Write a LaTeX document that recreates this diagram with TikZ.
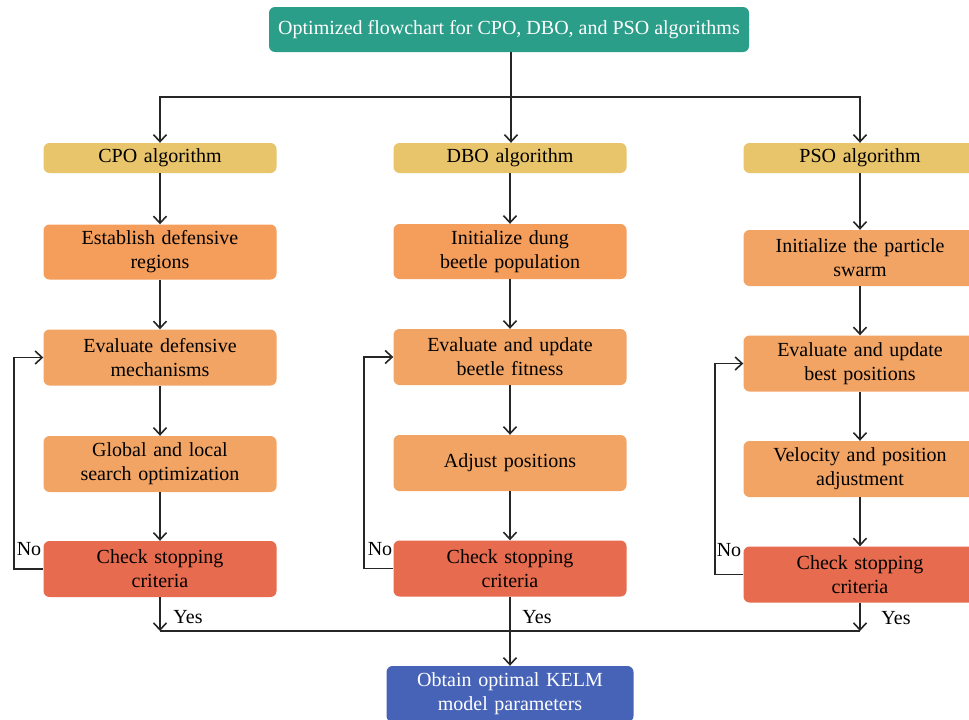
\documentclass[tikz,border=0pt]{standalone}
\usepackage{fontspec}
\setmainfont{Liberation Serif}
\usetikzlibrary{arrows.meta}
\definecolor{cTeal}{HTML}{2B9E89}
\definecolor{cYel}{HTML}{E8C46A}
\definecolor{cOrA}{HTML}{F59D5A}
\definecolor{cOrB}{HTML}{F2A464}
\definecolor{cRed}{HTML}{E76B4E}
\definecolor{cBlue}{HTML}{4763B8}
\begin{document}
\begin{tikzpicture}[x=1pt,y=-1pt,
  base/.style={rounded corners=6pt, align=center, font=\fontsize{20}{24}\selectfont, inner sep=0pt, text width=225pt},
  topbox/.style={rounded corners=6pt, align=center, font=\fontsize{20}{24}\selectfont, inner sep=0pt, fill=cTeal, text=white, minimum width=480pt, minimum height=45pt},
  algbox/.style={base, fill=cYel, minimum width=233pt, minimum height=30pt},
  stepA/.style={base, fill=cOrA, minimum width=233pt, minimum height=55pt},
  stepB/.style={base, fill=cOrB, minimum width=233pt, minimum height=56pt},
  chkbox/.style={base, fill=cRed, minimum width=233pt, minimum height=56pt},
  endbox/.style={base, fill=cBlue, text=white, minimum width=247pt, minimum height=56pt, text width=240pt},
  lbl/.style={font=\fontsize{20}{24}\selectfont, inner sep=0pt},
  arr/.style={-{Straight Barb[length=7pt,width=13pt,line width=1.6pt]}, line width=1.8pt, draw=black!85},
  ln/.style={line width=1.8pt, draw=black!85}]
\useasboundingbox (0,0) rectangle (969,720);
\fill[white] (0,0) rectangle (969,720);

\node[topbox] (top) at (509,29.5) {Optimized flowchart for CPO, DBO, and PSO algorithms};

% column 1
\node[algbox] (cpo) at (160,158) {CPO algorithm};
\node[stepA] (c1) at (160,252) {Establish defensive\\regions};
\node[stepB] (c2) at (160,357.5) {Evaluate defensive\\mechanisms};
\node[stepB] (c3) at (160,464) {Global and local\\search optimization};
\node[chkbox] (c4) at (160,569) {Check stopping\\criteria};

% column 2
\node[algbox] (dbo) at (510,158) {DBO algorithm};
\node[stepA] (d1) at (510,251.5) {Initialize dung\\beetle population};
\node[stepB] (d2) at (510,357) {Evaluate and update\\beetle fitness};
\node[stepB] (d3) at (510,463) {Adjust positions};
\node[chkbox] (d4) at (510,568.5) {Check stopping\\criteria};

% column 3
\node[algbox] (pso) at (860,158) {PSO algorithm};
\node[stepB] (p1) at (860,258) {Initialize the particle\\swarm};
\node[stepB] (p2) at (860,363.5) {Evaluate and update\\best positions};
\node[stepB] (p3) at (860,469) {Velocity and position\\adjustment};
\node[chkbox] (p4) at (860,574.5) {Check stopping\\criteria};

\node[endbox] (kelm) at (510,694) {Obtain optimal KELM\\model parameters};

% top distribution
\coordinate (hub) at (511,97);
\draw[arr] (top.south -| hub) -- (hub) -- (dbo.north -| hub);
\draw[arr] (hub) -| (cpo.north);
\draw[arr] (hub) -| (pso.north);

% vertical flows
\foreach \a/\b in {cpo/c1,c1/c2,c2/c3,c3/c4,dbo/d1,d1/d2,d2/d3,d3/d4,pso/p1,p1/p2,p2/p3,p3/p4}
  \draw[arr] (\a) -- (\b);

% loops
\coordinate (l1) at (14,0);
\coordinate (l2) at (364,0);
\coordinate (l3) at (715,0);
\draw[arr] (c4.west) -- (c4.west -| l1) -- (c2.west -| l1) -- (c2.west);
\draw[arr] (d4.west) -- (d4.west -| l2) -- (d2.west -| l2) -- (d2.west);
\draw[arr] (p4.west) -- (p4.west -| l3) -- (p2.west -| l3) -- (p2.west);
\node[lbl] (no1) at (29,549) {No};
\node[lbl] (no2) at (380,549) {No};
\node[lbl] (no3) at (729,550) {No};

% bottom collection
\coordinate (bl) at (160,631);
\coordinate (br) at (860,631);
\draw[arr] (c4.south) -- (bl);
\draw[arr] (p4.south) -- (br);
\draw[ln] (bl) -- (br);
\draw[arr] (d4.south) -- (kelm.north);
\node[lbl] (y1) at (188,617) {Yes};
\node[lbl] (y2) at (537,617) {Yes};
\node[lbl] (y3) at (896,618) {Yes};
\end{tikzpicture}
\end{document}
